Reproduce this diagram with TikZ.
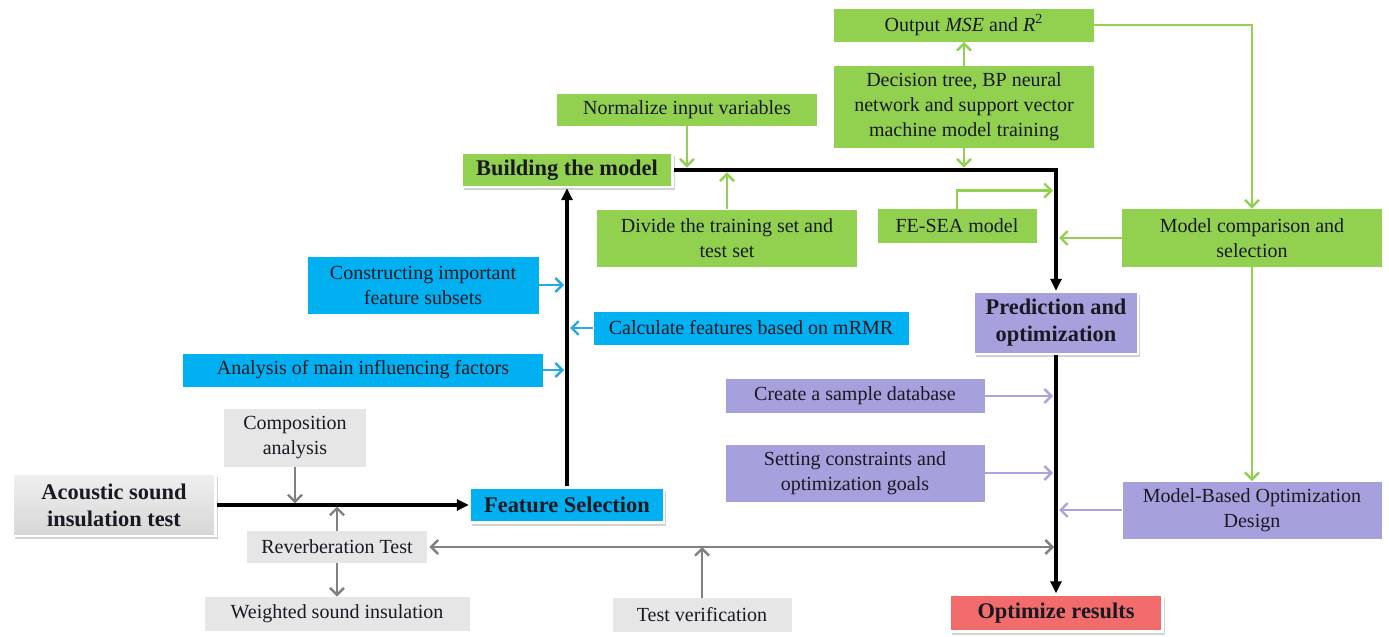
\documentclass[tikz,border=0pt]{standalone}
\usepackage{amsmath}
\usepackage{fontspec}
\setmainfont{Liberation Serif}
\usetikzlibrary{arrows.meta,shadows}

\definecolor{boxgreen}{RGB}{146,208,80}
\definecolor{boxblue}{RGB}{0,176,240}
\definecolor{boxpurple}{RGB}{166,160,220}
\definecolor{boxgray}{RGB}{230,230,230}
\definecolor{boxred}{RGB}{242,108,108}
\definecolor{linegray}{RGB}{128,128,128}
\definecolor{linepurple}{RGB}{170,165,222}
\definecolor{lineblue}{RGB}{40,170,225}
\definecolor{textdark}{RGB}{25,25,35}

\tikzset{
	box/.style={rectangle, inner sep=1pt, align=center, text=textdark, font=\fontsize{10}{12.5}\selectfont},
	greenbox/.style={box, fill=boxgreen},
	bluebox/.style={box, fill=boxblue},
	purplebox/.style={box, fill=boxpurple},
	graybox/.style={box, fill=boxgray},
	mainbox/.style={box, draw=white, line width=1.2pt, font=\fontsize{11.2}{13.5}\selectfont\bfseries,
		drop shadow={shadow xshift=1pt, shadow yshift=-1.5pt, opacity=0.35}},
	mainline/.style={line width=1.6pt, black, -{Triangle[length=6pt,width=5.5pt]}},
	thinline/.style={line width=1.2pt, -{Straight Barb[length=3.5pt,width=7pt]}},
	greenline/.style={thinline, boxgreen},
	blueline/.style={thinline, lineblue},
	purpleline/.style={thinline, linepurple},
	grayline/.style={thinline, linegray},
}

\begin{document}
\begin{tikzpicture}[x=0.5pt, y=-0.5pt]
			\useasboundingbox (0,0) rectangle (1389,637);
			\fill[white] (0,0) rectangle (1389,637);

			\node[greenbox, minimum width=130pt, minimum height=16.5pt] (output) at (964,25) {Output \textit{MSE} and \textit{R}\textsuperscript{2}};
			\node[greenbox, minimum width=130pt, minimum height=41pt] (decision) at (964,107) {Decision tree, BP neural\\network and support vector\\machine model training};
			\node[greenbox, minimum width=130pt, minimum height=16pt] (normal) at (687,110) {Normalize input variables};
			\node[mainbox, fill=boxgreen, minimum width=105.5pt, minimum height=17pt] (build) at (567,170) {Building the model};
			\node[greenbox, minimum width=130pt, minimum height=28.5pt] (divide) at (727,238) {Divide the training set and\\test set};
			\node[greenbox, minimum width=79.5pt, minimum height=17pt] (fesea) at (957,226) {FE-SEA model};
			\node[greenbox, minimum width=130pt, minimum height=29pt] (compare) at (1252,238) {Model comparison and\\selection};

			\node[bluebox, minimum width=115.5pt, minimum height=28.5pt] (construct) at (423,285) {Constructing important\\feature subsets};
			\node[bluebox, minimum width=157.5pt, minimum height=16.5pt] (calc) at (751,328) {Calculate features based on mRMR};
			\node[bluebox, minimum width=180pt, minimum height=16.5pt] (analysis) at (363,370) {Analysis of main influencing factors};
			\node[mainbox, fill=boxblue, minimum width=97pt, minimum height=17.5pt] (featsel) at (567,505) {Feature Selection};

			\node[mainbox, fill=boxpurple, minimum width=82pt, minimum height=31pt] (predict) at (1056,323) {Prediction and\\optimization};
			\node[purplebox, minimum width=129.5pt, minimum height=17pt] (create) at (855,396) {Create a sample database};
			\node[purplebox, minimum width=129.5pt, minimum height=28.5pt] (setting) at (855,473) {Setting constraints and\\optimization goals};
			\node[purplebox, minimum width=129.5pt, minimum height=28.5pt] (mbod) at (1252,510) {Model-Based Optimization\\Design};
			\node[mainbox, fill=boxred, minimum width=106.5pt, minimum height=18.5pt] (optim) at (1056,613) {Optimize results};

			\node[graybox, minimum width=71pt, minimum height=29pt] (compo) at (295,438) {Composition\\analysis};
			\node[mainbox, top color=gray!12, bottom color=gray!32, minimum width=101.5pt, minimum height=31pt] (acoustic) at (114,505) {Acoustic sound\\insulation test};
			\node[graybox, minimum width=90pt, minimum height=16pt] (reverb) at (337,547) {Reverberation Test};
			\node[graybox, minimum width=132.5pt, minimum height=17pt] (weighted) at (337,614) {Weighted sound insulation};
			\node[graybox, minimum width=89.5pt, minimum height=17pt] (testver) at (702,615) {Test verification};

			\path (fesea.north) ++(0,-18) coordinate (fejoin);

			\draw[mainline] (acoustic.east) -- (featsel.west);
			\draw[mainline] (featsel.north) -- (build.south);
			\draw[mainline] (build.east) -| (predict.north);
			\draw[mainline] (predict.south) -- (optim.north);

			\draw[grayline, shorten >=0.8pt] (compo.south) -- (compo.south |- acoustic.east);
			\draw[grayline, shorten >=0.8pt] (reverb.north) -- (reverb.north |- acoustic.east);
			\draw[grayline] (reverb.south) -- (weighted.north);
			\draw[grayline, {Straight Barb[length=3.5pt,width=7pt]}-{Straight Barb[length=3.5pt,width=7pt]}, shorten <=1pt, shorten >=1pt] (reverb.east) -- (reverb.east -| predict.south);
			\draw[grayline] (testver.north) -- (testver.north |- reverb.east);

			\draw[blueline, shorten >=1.5pt] (construct.east) -- (construct.east -| featsel.north);
			\draw[blueline, shorten >=1.5pt] (calc.west) -- (calc.west -| featsel.north);
			\draw[blueline, shorten >=1.5pt] (analysis.east) -- (analysis.east -| featsel.north);

			\draw[greenline, shorten >=1.2pt] (normal.south) -- (normal.south |- build.east);
			\draw[greenline, shorten >=1.2pt] (divide.north) -- (divide.north |- build.east);
			\draw[greenline, shorten >=1.2pt] (decision.south) -- (decision.south |- build.east);
			\draw[greenline] (decision.north) -- (output.south);
			\draw[greenline, shorten >=1.5pt] (fesea.north) -- (fejoin) -- (fejoin -| predict.north);
			\draw[greenline] (output.east) -| (compare.north);
			\draw[greenline, shorten >=1.5pt] (compare.west) -- (compare.west -| predict.north);
			\draw[greenline] (compare.south) -- (mbod.north);

			\draw[purpleline, shorten >=1.5pt] (create.east) -- (create.east -| predict.south);
			\draw[purpleline, shorten >=1.5pt] (setting.east) -- (setting.east -| predict.south);
			\draw[purpleline, shorten >=1.5pt] (mbod.west) -- (mbod.west -| predict.south);
		\end{tikzpicture}
\end{document}
